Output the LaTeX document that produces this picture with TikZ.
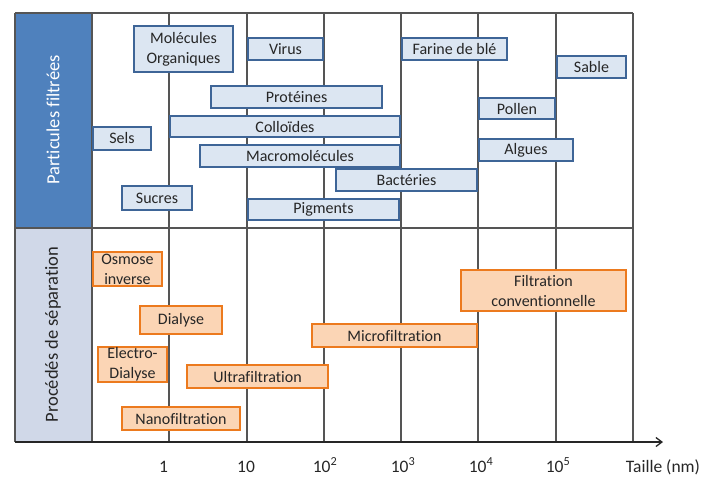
\documentclass[tikz,border=0pt]{standalone}
\usepackage{fontspec}
\setmainfont{Carlito}[Ligatures=NoCommon]
\usetikzlibrary{arrows.meta}
\definecolor{hdrblue}{HTML}{4F81BD}
\definecolor{hdrlav}{HTML}{D0D8E8}
\definecolor{pfill}{HTML}{DCE6F2}
\definecolor{pborder}{HTML}{3E6597}
\definecolor{ofill}{HTML}{FBD5B5}
\definecolor{oborder}{HTML}{EC7A1E}
\definecolor{gridc}{HTML}{555555}
\definecolor{txt}{HTML}{262626}
\tikzset{
  box/.style={draw, line width=2pt, inner sep=0pt, align=center, text=txt,
    font=\fontsize{16}{20}\selectfont},
  pbox/.style={box, draw=pborder, fill=pfill},
  obox/.style={box, draw=oborder, fill=ofill},
  gridline/.style={draw=gridc, line width=1.3pt},
  ticklab/.style={anchor=base, inner sep=0pt, text=txt, font=\fontsize{17.5}{20}\selectfont},
  sidelab/.style={rotate=90, inner sep=0pt, font=\fontsize{18.5}{22}\selectfont}
}
\begin{document}
\begin{tikzpicture}[x=1pt,y=-1pt]
\useasboundingbox (0,0) rectangle (704,477);
% side bands
\fill[hdrblue] (15,13) rectangle (92,228);
\fill[hdrlav] (15,228) rectangle (92,442);
% grid
\draw[gridline] (15,13) -- (633,13);
\draw[gridline] (15,228) -- (633,228);
\foreach \x in {15,92,169,247,324,401,478,556,633}{
  \draw[gridline] (\x,13) -- (\x,442);
}
\coordinate (ax0) at (15,442);
\coordinate (ax1) at (663,442);
\draw[line width=1.3pt, draw=black!85, -{Straight Barb[length=6pt,width=9pt,line width=1.3pt]}] (ax0) -- (ax1);
% side labels
\node[sidelab, text=white] (lpart) at (53,120) {Particules filtrées};
\node[sidelab, text=txt] (lproc) at (53,334.5) {Procédés de séparation};
% particle boxes
\node[pbox, minimum width=99pt, minimum height=46pt] (mol) at (183.5,49) {Molécules\\Organiques};
\node[pbox, minimum width=75pt, minimum height=22pt] (virus) at (285.5,49) {Virus};
\node[pbox, minimum width=105pt, minimum height=22pt] (farine) at (454.5,49) {Farine de blé};
\node[pbox, minimum width=69pt, minimum height=22pt] (sable) at (591.5,67) {Sable};
\node[pbox, minimum width=171pt, minimum height=22pt] (prot) at (296.5,97) {Protéines};
\node[pbox, minimum width=76pt, minimum height=21pt] (pollen) at (517,108.5) {Pollen};
\node[pbox, minimum width=230pt, minimum height=21pt] (coll) at (285,126.5) {Colloïdes};
\node[pbox, minimum width=58pt, minimum height=23pt] (sels) at (122,138.5) {Sels};
\node[pbox, minimum width=94pt, minimum height=22pt] (algues) at (526,150) {Algues};
\node[pbox, minimum width=200pt, minimum height=22pt] (macro) at (300,156) {Macromolécules};
\node[pbox, minimum width=141pt, minimum height=22pt] (bact) at (406.5,180) {Bactéries};
\node[pbox, minimum width=70pt, minimum height=24pt] (sucres) at (157,198) {Sucres};
\node[pbox, minimum width=151pt, minimum height=21pt] (pigm) at (323.5,209.5) {Pigments};
% process boxes
\node[obox, minimum width=69pt, minimum height=34pt] (osmose) at (127.5,269) {Osmose\\inverse};
\node[obox, minimum width=165pt, minimum height=41pt] (fconv) at (543.5,290.5) {Filtration\\conventionnelle};
\node[obox, minimum width=82pt, minimum height=28pt] (dial) at (181,320) {Dialyse};
\node[obox, minimum width=165pt, minimum height=23pt] (micro) at (394.5,335.5) {Microfiltration};
\node[obox, minimum width=69pt, minimum height=35pt] (electro) at (132.5,364.5) {Electro-\\Dialyse};
\node[obox, minimum width=141pt, minimum height=23pt] (ultra) at (257.5,376.5) {Ultrafiltration};
\node[obox, minimum width=118pt, minimum height=23pt] (nano) at (181,418.5) {Nanofiltration};
% tick labels
\node[ticklab] (t0) at (163.5,472) {1};
\node[ticklab] (t1) at (246,472) {10};
\node[ticklab] (t2) at (325,472) {10\textsuperscript{2}};
\node[ticklab] (t3) at (403,472) {10\textsuperscript{3}};
\node[ticklab] (t4) at (481,472) {10\textsuperscript{4}};
\node[ticklab] (t5) at (558,472) {10\textsuperscript{5}};
\node[ticklab] (tunit) at (663,472) {Taille (nm)};
\end{tikzpicture}
\end{document}
